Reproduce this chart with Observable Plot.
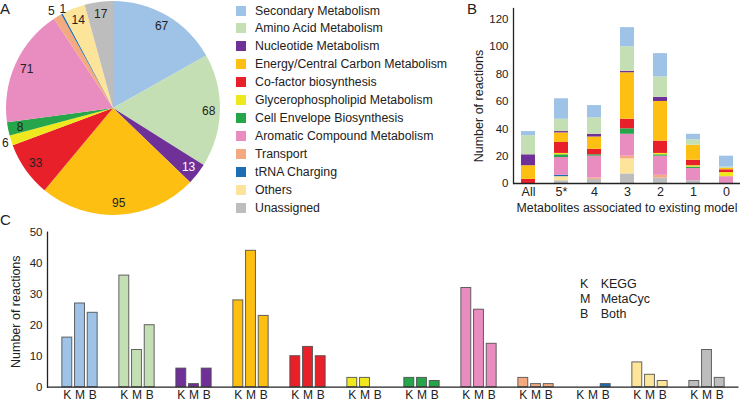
<!DOCTYPE html>
<html><head><meta charset="utf-8">
<script src="https://cdn.jsdelivr.net/npm/d3@7"></script>
<script src="https://cdn.jsdelivr.net/npm/@observablehq/plot@0.6"></script>
<style>
body{margin:0;background:#fff;font-family:"Liberation Sans",Arial,sans-serif;color:#222;}
#root{position:relative;width:740px;height:401px;overflow:hidden;background:#fff;}
#root svg{position:absolute;}
.letter{position:absolute;font-size:15px;line-height:1;}
.leg{position:absolute;left:236px;height:14px;font-size:12.3px;line-height:14px;display:flex;align-items:center;white-space:nowrap;}
.sw{width:10px;height:10px;margin-right:9px;display:inline-block;}
.kmb{position:absolute;font-size:12.5px;line-height:14px;height:14px;white-space:nowrap;}
</style></head><body><div id="root"></div>
<script>
// ---------- data ----------
const categories = ["Secondary Metabolism","Amino Acid Metabolism","Nucleotide Metabolism","Energy/Central Carbon Metabolism","Co-factor biosynthesis","Glycerophospholipid Metabolism","Cell Envelope Biosynthesis","Aromatic Compound Metabolism","Transport","tRNA Charging","Others","Unassigned"];
const colors = ["#9fc3e7","#c5dfb5","#6f3198","#fdbf12","#e8202a","#f0e81e","#27a54a","#e98cbf","#f3aa80","#1c6db5","#fde49b","#bdbdbd"];
// Panel A (pie)
const pieValues = [67,68,13,95,33,6,8,71,5,1,14,17];
// Panel B (stacked bars), one array per category, in order of groupsB
const groupsB = ["All","5*","4","3","2","1","0"];
const bSecondary  = [3,15,9,14,17,4,8];
const bAmino      = [14,9,12,18,15,4,1];
const bNucleotide = [8,1,2,1,3,0,0];
const bEnergy     = [10,7,9,34,29,11,1];
const bCofactor   = [3,8,4,7,9,4,2];
const bGlycero    = [0,1,0,0,1,1,3];
const bCellEnv    = [0,2,1,4,1,1,0];
const bAromatic   = [0,13,16,16,14,9,5];
const bTransport  = [0,0,1,2,2,0,0];
const bTRNA       = [0,1,0,0,0,0,0];
const bOthers     = [0,3,0,11,0,0,0];
const bUnassigned = [0,2,3,7,4,2,0];
const yTicksB = [0,20,40,60,80,100,120];
// Panel C (grouped bars), in order of categories
const kegg    = [16,36,6,28,10,3,3,32,3,0,8,2];
const metacyc = [27,12,1,44,13,3,3,25,1,0,4,12];
const both    = [24,20,6,23,10,0,2,14,1,1,2,3];
const yTicksC = [0,10,20,30,40,50];
const sourceKeys = ["K","M","B"];
const sourceNames = ["KEGG","MetaCyc","Both"];

const root = document.getElementById("root");
const FONT = "Liberation Sans, Arial, sans-serif";
const ink = "#222";

// ---------- Panel A: pie ----------
const arcs = d3.pie().sort(null).value(d => d)(pieValues);
const pieLabels = arcs.map((a, i) => {
  const mid = (a.startAngle + a.endAngle) / 2;
  const outside = a.value <= 6;
  const r = outside ? 1.06 : 0.89;
  let anchor = "middle";
  if (outside) {
    if (arcs[i + 1] && arcs[i + 1].value <= 6) anchor = "end";
    else if (arcs[i - 1] && arcs[i - 1].value <= 6) anchor = "start";
  }
  const light = !outside && d3.lab(colors[i]).l < 40;
  return {x: r * Math.sin(mid), y: r * Math.cos(mid), text: String(pieValues[i]), anchor, light};
});
function pieSlices(index, scales) {
  const {x, y} = scales;
  const cx = x(0), cy = y(0), R = x(1) - x(0);
  const g = d3.create("svg:g").attr("transform", `translate(${cx},${cy})`);
  const arc = d3.arc().innerRadius(0).outerRadius(R);
  g.selectAll("path").data(arcs).join("path")
    .attr("d", arc).attr("fill", (d, i) => colors[i]);
  return g.node();
}
const labelMarks = [];
for (const anchor of ["middle","start","end"]) for (const light of [false, true]) {
  const sub = pieLabels.filter(d => d.anchor === anchor && d.light === light);
  if (sub.length) labelMarks.push(Plot.text(sub, {x: "x", y: "y", text: "text", textAnchor: anchor, fill: light ? "#fff" : ink, fontSize: 12}));
}
const plotA = Plot.plot({
  width: 230, height: 222, marginLeft: 6, marginRight: 10, marginTop: 1, marginBottom: 7,
  x: {domain: [-1, 1], axis: null}, y: {domain: [-1, 1], axis: null},
  style: {background: "transparent", fontFamily: FONT, overflow: "visible"},
  marks: [pieSlices, ...labelMarks]
});
plotA.style.left = "0px"; plotA.style.top = "0px";
root.appendChild(plotA);

// legend
categories.forEach((c, i) => {
  const d = document.createElement("div");
  d.className = "leg";
  d.style.top = (10.5 + i * 17.96 - 7) + "px";
  d.innerHTML = `<span class="sw" style="background:${colors[i]}"></span><span>${c}</span>`;
  root.appendChild(d);
});

// ---------- Panel B: stacked bars ----------
const bSeries = [bSecondary,bAmino,bNucleotide,bEnergy,bCofactor,bGlycero,bCellEnv,bAromatic,bTransport,bTRNA,bOthers,bUnassigned];
const rowsB = [];
for (let ci = categories.length - 1; ci >= 0; ci--)
  groupsB.forEach((g, gi) => { if (bSeries[ci][gi] > 0) rowsB.push({group: g, cat: categories[ci], value: bSeries[ci][gi]}); });
const plotB = Plot.plot({
  width: 280, height: 215, marginLeft: 53, marginRight: 0, marginTop: 8, marginBottom: 32,
  x: {domain: groupsB, paddingInner: 0.584, paddingOuter: 0.162},
  y: {domain: [0, 128]},
  color: {domain: categories, range: colors},
  style: {background: "transparent", fontFamily: FONT, color: ink, overflow: "visible"},
  marks: [
    Plot.barY(rowsB, {x: "group", y: "value", fill: "cat"}),
    Plot.axisY({ticks: yTicksB, tickSize: 0, tickPadding: 5, fontSize: 11.5, label: null}),
    Plot.axisX({tickSize: 0, tickPadding: 4, fontSize: 12.5, label: null}),
    Plot.ruleY([0], {stroke: ink, strokeWidth: 1.3}),
    Plot.frame({anchor: "left", stroke: ink, strokeWidth: 1.3}),
    Plot.text(["Number of reactions"], {text: d => d, frameAnchor: "left", textAnchor: "middle", lineAnchor: "middle", rotate: -90, dx: -35, dy: 10, fontSize: 12.5, fill: ink}),
    Plot.text(["Metabolites associated to existing model"], {text: d => d, frameAnchor: "bottom", textAnchor: "middle", lineAnchor: "middle", dy: 25, fontSize: 12.3, fill: ink})
  ]
});
plotB.style.left = "460px"; plotB.style.top = "0px";
root.appendChild(plotB);

// ---------- Panel C: grouped bars ----------
const srcArrays = [kegg, metacyc, both];
const offsets = [-12.7, 0, 12.7];
const barMarks = [], tickMarks = [];
srcArrays.forEach((arr, si) => {
  const rows = categories.map((c, i) => ({cat: c, value: arr[i]})).filter(d => d.value > 0);
  barMarks.push(Plot.barY(rows, {x: "cat", y: "value", fill: "cat", dx: offsets[si], insetLeft: 23.55, insetRight: 23.55, stroke: "#4a4a4a", strokeWidth: 1, strokeOpacity: 0.85}));
  tickMarks.push(Plot.text(categories, {x: d => d, y: () => 0, text: () => sourceKeys[si], dx: offsets[si], dy: 7.6, lineAnchor: "middle", fontSize: 12, fill: ink}));
});
const plotC = Plot.plot({
  width: 740, height: 186, marginLeft: 47, marginRight: 1.5, marginTop: 16.7, marginBottom: 14.3,
  x: {domain: categories, padding: 0, axis: null},
  y: {domain: [0, 50]},
  color: {domain: categories, range: colors},
  style: {background: "transparent", fontFamily: FONT, color: ink, overflow: "visible"},
  marks: [
    ...barMarks,
    Plot.axisY({ticks: yTicksC, tickSize: 0, tickPadding: 5, fontSize: 11.5, label: null}),
    Plot.ruleY([0], {stroke: ink, strokeWidth: 1.3}),
    Plot.frame({anchor: "left", stroke: ink, strokeWidth: 1.3}),
    ...tickMarks,
    Plot.text(["Number of reactions"], {text: d => d, frameAnchor: "left", textAnchor: "middle", lineAnchor: "middle", rotate: -90, dx: -32, dy: 2, fontSize: 12.5, fill: ink})
  ]
});
plotC.style.left = "0px"; plotC.style.top = "215px";
root.appendChild(plotC);

// K/M/B key
sourceKeys.forEach((k, i) => {
  const y = 284 + i * 14.85 - 7;
  const a = document.createElement("div"); a.className = "kmb"; a.style.left = "580px"; a.style.top = y + "px"; a.textContent = k;
  const b = document.createElement("div"); b.className = "kmb"; b.style.left = "600.7px"; b.style.top = y + "px"; b.textContent = sourceNames[i];
  root.appendChild(a); root.appendChild(b);
});

// panel letters
[["A", 0, 0.6], ["B", 467, 0.5], ["C", 0, 211.6]].forEach(([t, x, y]) => {
  const d = document.createElement("div"); d.className = "letter"; d.style.left = x + "px"; d.style.top = y + "px"; d.textContent = t;
  root.appendChild(d);
});
</script>
</body></html>
